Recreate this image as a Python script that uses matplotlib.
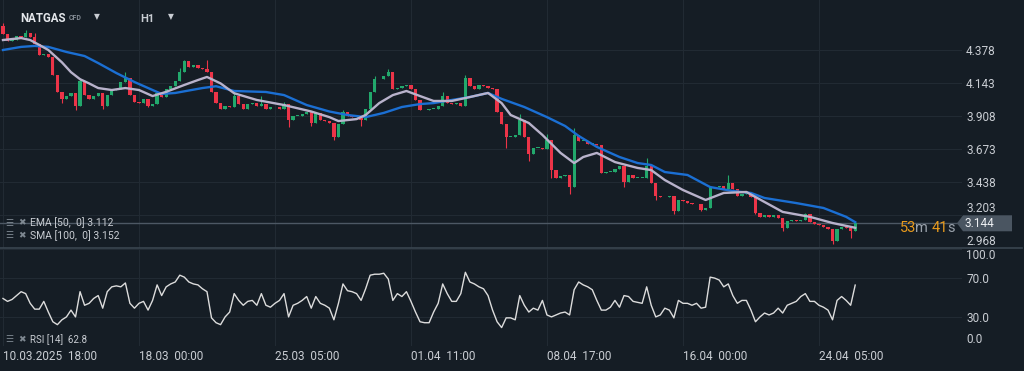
import matplotlib.pyplot as plt
import numpy as np
from matplotlib.lines import Line2D
from matplotlib.patches import Polygon
from matplotlib.transforms import blended_transform_factory

plt.rcParams['font.family'] = ['Roboto', 'DejaVu Sans']

# ---- data (4h-ish bars) ----
first_open = 4.55
closes = [
    4.49, 4.44, 4.45, 4.48, 4.47, 4.50, 4.47, 4.42, 4.34, 4.35,
    4.33, 4.20, 4.08, 4.03, 4.05, 4.07, 3.98, 4.16, 4.06, 4.03,
    4.05, 4.07, 3.98, 4.06, 4.09, 4.10, 4.15, 4.18, 4.06, 4.01,
    4.00, 4.03, 3.98, 3.99, 4.07, 4.04, 4.10, 4.12, 4.16, 4.22,
    4.30, 4.26, 4.27, 4.25, 4.24, 4.22, 4.08, 4.00, 3.96, 3.98,
    3.97, 4.05, 3.99, 3.96, 3.99, 4.00, 3.98, 3.99, 3.96, 3.97,
    3.97, 3.96, 3.99, 3.88, 3.91, 3.91, 3.92, 3.94, 3.86, 3.93,
    3.88, 3.87, 3.86, 3.76, 3.85, 3.94, 3.91, 3.90, 3.91, 3.88,
    3.96, 4.08, 4.17, 4.17, 4.19, 4.22, 4.10, 4.11, 4.12, 4.13,
    4.10, 4.02, 3.95, 3.95, 3.96, 3.96, 3.98, 4.05, 4.00, 3.99,
    4.00, 3.98, 4.18, 4.12, 4.10, 4.13, 4.12, 4.11, 4.10, 3.94,
    3.85, 3.76, 3.76, 3.77, 3.88, 3.76, 3.64, 3.68, 3.68, 3.67,
    3.74, 3.52, 3.47, 3.48, 3.49, 3.40, 3.77, 3.73, 3.73, 3.71,
    3.71, 3.70, 3.50, 3.51, 3.51, 3.53, 3.55, 3.44, 3.49, 3.47,
    3.47, 3.47, 3.55, 3.43, 3.34, 3.33, 3.33, 3.34, 3.23, 3.31,
    3.30, 3.29, 3.28, 3.28, 3.24, 3.25, 3.40, 3.40, 3.41, 3.39,
    3.43, 3.39, 3.34, 3.35, 3.36, 3.33, 3.22, 3.19, 3.20, 3.19,
    3.20, 3.18, 3.11, 3.16, 3.17, 3.16, 3.17, 3.21, 3.15, 3.14,
    3.13, 3.12, 3.10, 3.02, 3.10, 3.12, 3.11, 3.09, 3.144,
]
# wick extremes beyond the body
spike_hi = {0: 4.57, 5: 4.52, 7: 4.50, 17: 4.18, 27: 4.22, 39: 4.25, 40: 4.31,
            45: 4.31, 51: 4.08, 57: 4.05, 62: 4.01, 75: 3.95, 82: 4.19, 85: 4.24,
            97: 4.08, 102: 4.20, 114: 3.92, 120: 3.78, 126: 3.82, 142: 3.61,
            160: 3.49, 177: 3.22, 188: 3.16}
spike_lo = {13: 4.00, 16: 3.95, 22: 3.96, 32: 3.97, 63: 3.83, 68: 3.84, 73: 3.74,
            79: 3.84, 111: 3.68, 116: 3.59, 121: 3.47, 125: 3.35, 137: 3.40,
            144: 3.31, 148: 3.21, 154: 3.23, 166: 3.21, 172: 3.09, 183: 3.00,
            187: 3.04}

ema_bars = [0, 4, 6, 8, 10, 13, 15, 17, 19, 21, 24, 27, 30, 33, 36, 40, 43, 45, 48, 51,
            56, 62, 68, 72, 74, 78, 80, 83, 86, 89, 92, 95, 99, 103, 107, 110, 112, 116,
            119, 123, 126, 128, 131, 135, 140, 143, 146, 150, 155, 159, 164, 166, 172,
            178, 183, 188]
ema_vals = [4.449, 4.463, 4.449, 4.414, 4.378, 4.29, 4.22, 4.17, 4.14, 4.107,
            4.093, 4.107, 4.093, 4.05, 4.08, 4.129, 4.164, 4.186, 4.14, 4.07,
            4.022, 3.986, 3.94, 3.90, 3.872, 3.886, 3.915, 4.00, 4.057, 4.086,
            4.05, 4.015, 4.015, 4.043, 4.072, 4.00, 3.915, 3.858, 3.773, 3.645,
            3.573, 3.616, 3.645, 3.58, 3.538, 3.523, 3.452, 3.381, 3.31, 3.36,
            3.367, 3.331, 3.225, 3.19, 3.146, 3.112]
sma_bars = [0, 4, 7, 10, 14, 18, 21, 25, 29, 33, 35, 38, 44, 47, 51, 58, 62, 67, 72, 76,
            80, 84, 88, 92, 95, 99, 103, 107, 110, 115, 120, 124, 127, 131, 136, 140,
            143, 146, 151, 156, 161, 165, 168, 175, 181, 186, 188]
sma_vals = [4.378, 4.40, 4.407, 4.40, 4.364, 4.335, 4.285, 4.214, 4.15, 4.093,
            4.065, 4.072, 4.107, 4.12, 4.086, 4.079, 4.057, 3.986, 3.94, 3.915,
            3.90, 3.93, 3.972, 3.993, 4.0, 4.022, 4.043, 4.072, 4.03, 3.972,
            3.90, 3.837, 3.766, 3.688, 3.616, 3.573, 3.559, 3.509, 3.488, 3.402,
            3.374, 3.36, 3.324, 3.288, 3.253, 3.19, 3.152]

rsi = [
    49, 46, 48, 52, 56, 54, 44, 38, 38, 46,
    35, 25, 22, 27, 30, 37, 30, 56, 42, 44,
    49, 52, 39, 56, 61, 62, 61, 65, 44, 39,
    44, 46, 37, 47, 63, 52, 61, 64, 66, 73,
    71, 66, 64, 63, 59, 56, 29, 24, 22, 30,
    35, 54, 47, 42, 46, 47, 42, 54, 42, 40,
    44, 47, 54, 30, 42, 44, 47, 51, 39, 51,
    44, 42, 39, 27, 44, 64, 57, 56, 54, 47,
    59, 73, 74, 74, 75, 69, 47, 54, 51, 56,
    46, 35, 25, 24, 24, 35, 44, 64, 54, 46,
    46, 54, 76, 66, 64, 61, 59, 52, 37, 25,
    19, 29, 29, 27, 52, 42, 35, 39, 37, 47,
    32, 30, 32, 34, 35, 32, 58, 66, 63, 61,
    58, 47, 37, 37, 40, 47, 40, 52, 51, 46,
    45, 44, 61, 42, 30, 32, 39, 37, 29, 47,
    44, 44, 42, 44, 39, 40, 71, 70, 68, 61,
    64, 52, 44, 47, 47, 37, 25, 30, 34, 32,
    34, 39, 34, 42, 44, 46, 51, 54, 46, 46,
    42, 40, 37, 27, 47, 51, 47, 42, 62.8,
]

price_ticks = [4.378, 4.143, 3.908, 3.673, 3.438, 3.203, 2.968]
rsi_ticks = [0, 30, 70, 100]
date_bars = [0, 30, 60, 90, 120, 150, 180]
date_labels = ['10.03.2025  18:00', '18.03  00:00', '25.03  05:00', '01.04  11:00',
               '08.04  17:00', '16.04  00:00', '24.04  05:00']

# ---- style ----
BG = '#151d25'
GRID = '#212a33'
TXT = '#c9cdd3'
UP = '#22a86c'
DN = '#ec3448'
W, H = 1024, 371


def fx(px):
    return px / W


def fy(py):
    return 1 - py / H


fig = plt.figure(figsize=(W / 100, H / 100), dpi=100, facecolor=BG)
ax = fig.add_axes([0, fy(248), fx(962), 248 / H], facecolor=BG)
ax2 = fig.add_axes([0, fy(346), fx(962), 97 / H], facecolor=BG, sharex=ax)

c = np.array(closes)
o = np.r_[first_open, c[:-1]]
x = np.arange(len(c))
hi = np.maximum(o, c)
lo = np.minimum(o, c)
for k, v in spike_hi.items():
    hi[k] = max(hi[k], v)
for k, v in spike_lo.items():
    lo[k] = min(lo[k], v)
cols = np.where(c >= o, UP, DN)

ax.vlines(x, lo, hi, colors=cols, lw=0.8, zorder=3)
ax.bar(x, np.maximum(np.abs(c - o), 0.004), bottom=np.minimum(o, c), width=0.72,
       color=cols, zorder=3)
ax.plot(sma_bars, sma_vals, color='#1b6fd3', lw=1.7, zorder=4)
ax.plot(ema_bars, ema_vals, color='#b8b2cb', lw=1.7, zorder=5)
ax.axhline(c[-1], color='#4d5864', lw=1, zorder=2)

ax.set_xlim(-0.66, 211.56)
ax.set_ylim(2.968, 4.734)
ax.set_yticks(price_ticks)
ax.set_yticklabels(['%.3f' % t for t in price_ticks])
ax.yaxis.tick_right()
ax.tick_params(axis='y', length=0, pad=3, labelsize=8.5, labelcolor=TXT)
ax.tick_params(axis='x', length=0, labelbottom=False)
ax.get_yticklabels()[-1].set_va('bottom')
ax.get_yticklabels()[-2].set_va('bottom')   # sits just above the price tag
ax.grid(True, color=GRID, lw=0.8)
for s in ax.spines.values():
    s.set_visible(False)

# current price tag and countdown
tr = blended_transform_factory(ax.transAxes, ax.transData)
last = c[-1]
dh = 8.0 / 140.4
tag = Polygon([(957 / 962, last), (963 / 962, last + dh), (1012 / 962, last + dh),
               (1012 / 962, last - dh), (963 / 962, last - dh)],
              closed=True, transform=tr, fc='#4a5561', ec='none', clip_on=False, zorder=6)
ax.add_patch(tag)
ax.text(965 / 962, last, '%.3f' % last, transform=tr, ha='left', va='center',
        fontsize=8.5, color='#eef0f3', clip_on=False, zorder=7)
cy = last - 5 / 140.4
for px, s, col in [(900, '53', '#e89a1c'), (915, 'm', '#9aa2ab'),
                   (932, '41', '#e89a1c'), (947, 's', '#9aa2ab')]:
    ax.text(px / 962, cy, s, transform=tr, ha='left', va='center', fontsize=10.5,
            color=col, zorder=7, clip_on=False)

# RSI panel
ax2.plot(x, rsi, color='#dcdcdc', lw=1)
ax2.set_ylim(0, 100)
ax2.set_yticks(rsi_ticks)
ax2.set_yticklabels(['%.1f' % t for t in rsi_ticks])
ax2.yaxis.tick_right()
ax2.tick_params(axis='y', length=0, pad=3, labelsize=8.5, labelcolor=TXT)
ax2.get_yticklabels()[0].set_va('bottom')
ax2.get_yticklabels()[-1].set_va('top')
ax2.set_xticks(date_bars)
ax2.set_xticklabels(date_labels)
ax2.tick_params(axis='x', length=0, pad=3, labelsize=8.5, labelcolor=TXT)
for lbl in ax2.get_xticklabels():
    lbl.set_ha('left')
ax2.grid(True, color=GRID, lw=0.8)
for s in ax2.spines.values():
    s.set_visible(False)

# separator between panels
fig.add_artist(Line2D([0, fx(1022)], [fy(248), fy(248)], color='#3a4550', lw=1.2))

# header
fig.text(fx(20), fy(18), 'NATGAS', fontsize=8.3, fontweight='bold', color='#e4e7eb', va='center')
fig.text(fx(69), fy(18), 'CFD', fontsize=5, fontweight='bold', color='#848c95', va='center')
fig.text(fx(94), fy(17), '▼', fontsize=5.5, color=TXT, va='center')
fig.text(fx(140), fy(19), 'H1', fontsize=8, fontweight='bold', color=TXT, va='center')
fig.text(fx(168), fy(17), '▼', fontsize=5.5, color=TXT, va='center')

# indicator legends
for py, label, fs in [(223, 'EMA [50,  0] 3.112', 7.5), (236, 'SMA [100,  0] 3.152', 7.5),
                      (340, 'RSI [14]  62.8', 7)]:
    fig.text(fx(5), fy(py), '☰', fontsize=6.5, color='#7e8891', va='center')
    fig.text(fx(18), fy(py), '✖', fontsize=6.5, color='#7e8891', va='center')
    fig.text(fx(30), fy(py), label, fontsize=fs, color=TXT, va='center')

fig.savefig('out.png', dpi=100, facecolor=BG)
